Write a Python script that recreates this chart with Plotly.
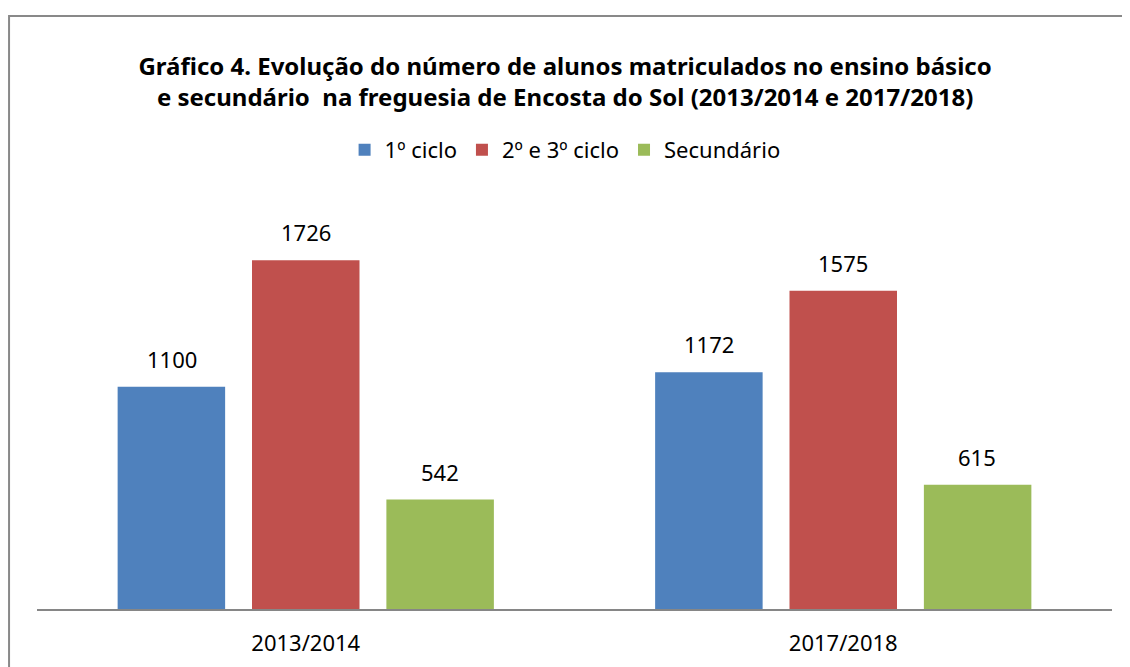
import plotly.graph_objects as go

anos = ["2013/2014", "2017/2018"]
ciclo1 = [1100, 1172]
ciclo23 = [1726, 1575]
secundario = [542, 615]

series = [
    ("1º ciclo", ciclo1, "#4F81BD"),
    ("2º e 3º ciclo", ciclo23, "#C0504D"),
    ("Secundário", secundario, "#9BBB59"),
]

FONT = "Noto Sans"
SLOT = 134  # largura (px) de cada barra + espaço, para posicionar os rótulos

fig = go.Figure()
for i, (name, vals, color) in enumerate(series):
    fig.add_trace(go.Bar(
        x=anos, y=vals, name=name,
        marker=dict(color=color, line=dict(width=0)),
    ))
    # rótulos de dados acima das barras
    for ano, v in zip(anos, vals):
        fig.add_annotation(
            x=ano, y=v, text=str(v), showarrow=False,
            xshift=(i - 1) * SLOT, yanchor="bottom", yshift=11,
            font=dict(family=FONT, size=22, color="#000000"),
        )

fig.update_layout(
    width=1130, height=667,
    paper_bgcolor="white", plot_bgcolor="white",
    margin=dict(l=29, r=26, t=197, b=66),
    barmode="group", bargap=0.25, bargroupgap=0.2,
    font=dict(family=FONT, size=22, color="#000000"),
    title=dict(
        text="<b>Gráfico 4. Evolução do número de alunos matriculados no ensino básico<br>e secundário  na freguesia de Encosta do Sol (2013/2014 e 2017/2018)</b>",
        x=0.493, xanchor="center", xref="container",
        y=1 - 67 / 667, yanchor="middle", yref="container",
        font=dict(family=FONT, size=24, color="#000000"),
    ),
    legend=dict(
        orientation="h", x=0.493, xanchor="center", xref="container",
        y=1 - 142 / 667, yanchor="middle", yref="container",
        font=dict(family=FONT, size=22), itemwidth=30,
    ),
    showlegend=True,
)
fig.update_xaxes(showline=True, linecolor="#868686", linewidth=2, ticks="",
                 showgrid=False, tickfont=dict(size=22), automargin=False,
                 ticklabelstandoff=14)
fig.update_yaxes(range=[0, 2000], visible=False, showgrid=False, automargin=False)

# moldura do gráfico
fig.add_shape(type="rect", xref="paper", yref="paper",
              x0=-0.026, x1=1.2, y0=-0.3, y1=1.468,
              line=dict(color="#898989", width=2), layer="below")

fig.write_html("out.html")
